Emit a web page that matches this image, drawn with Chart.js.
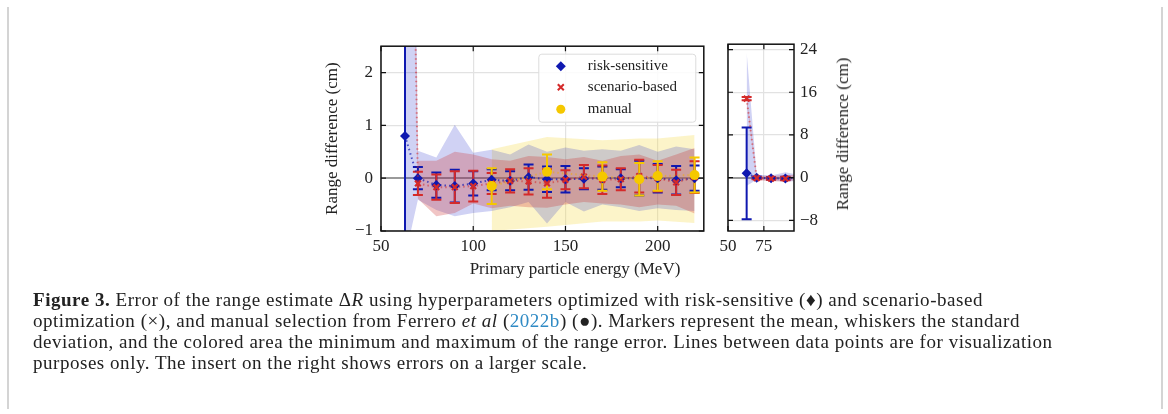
<!DOCTYPE html>
<html lang="en">
<head>
<meta charset="UTF-8">
<title>Figure 3 - range error</title>
<script src="https://cdn.jsdelivr.net/npm/chart.js@4.4.1/dist/chart.umd.min.js"></script>
<style>
    body {
        margin: 0;
        width: 1168px;
        height: 414px;
        position: relative;
        overflow: hidden;
        background: #fff;
        font-family: 'Liberation Serif', serif;
    }
    .frame {
        position: absolute;
        left: 7px;
        top: 7px;
        width: 1152px;
        height: 402px;
        border-left: 2px solid #d4d4d4;
        border-right: 2px solid #d4d4d4;
    }
    .box { position: absolute; }
    .xtitle {
        position: absolute;
        left: 447px;
        top: 259px;
        width: 256px;
        text-align: center;
        font-size: 17px;
        color: #222;
        white-space: nowrap;
    }
    .ytitle-right {
        position: absolute;
        left: 843px;
        top: 134px;
        transform: translate(-50%, -50%) rotate(-90deg);
        font-size: 17px;
        color: #222;
        white-space: nowrap;
    }
    .caption {
        position: absolute;
        left: 33px;
        top: 289px;
        font-size: 19px;
        letter-spacing: 0.53px;
        line-height: 21px;
        color: #222;
    }
    .caption div { white-space: nowrap; }
    .caption a { color: #2f8ac4; text-decoration: none; }
</style>
</head>
<body>
<div class="frame"></div>
<div class="box" style="left:320px; top:28px;"><canvas id="mainChart" width="390" height="265"></canvas></div>
<div class="box" style="left:700px; top:28px;"><canvas id="insetChart" width="160" height="265"></canvas></div>
<div class="xtitle">Primary particle energy (MeV)</div>
<div class="ytitle-right">Range difference (cm)</div>
<div class="caption">
    <div><b>Figure 3.</b> Error of the range estimate &Delta;<i>R</i> using hyperparameters optimized with risk-sensitive (&#9830;) and scenario-based</div>
    <div>optimization (&times;), and manual selection from Ferrero <i>et al</i> (<a>2022b</a>) (&#9679;). Markers represent the mean, whiskers the standard</div>
    <div>deviation, and the colored area the minimum and maximum of the range error. Lines between data points are for visualization</div>
    <div>purposes only. The insert on the right shows errors on a larger scale.</div>
</div>

<script>
// energies (MeV)
const energy = [63, 70, 80, 90, 100, 110, 120, 130, 140, 150, 160, 170, 180, 190, 200, 210, 220];
const manualEnergy = [110, 140, 170, 190, 200, 220];

// risk-sensitive
const riskMean = [0.8, 0.0, -0.13, -0.15, -0.1, -0.03, -0.05, 0.02, -0.02, -0.02, -0.01, 0.0, 0.0, 0.0, 0.0, -0.04, 0.0];
const riskStd  = [8.6, 0.21, 0.24, 0.31, 0.23, 0.2, 0.18, 0.24, 0.24, 0.25, 0.2, 0.22, 0.17, 0.33, 0.27, 0.27, 0.24];
const riskMin  = [-1.5, -0.41, -0.6, -0.72, -0.66, -0.62, -0.55, -0.45, -0.86, -0.45, -0.63, -0.5, -0.55, -0.62, -0.57, -0.6, -0.62];
const riskMax  = [23.5, 0.52, 0.39, 1.01, 0.48, 0.54, 0.45, 0.64, 0.5, 0.58, 0.52, 0.55, 0.52, 0.63, 0.5, 0.6, 0.55];

// scenario-based
const scenMean = [14.8, -0.1, -0.17, -0.17, -0.15, -0.1, -0.05, -0.06, -0.1, -0.03, 0.03, -0.03, -0.02, 0.04, 0.0, -0.08, 0.02];
const scenStd  = [0.3, 0.22, 0.24, 0.3, 0.29, 0.2, 0.22, 0.25, 0.27, 0.18, 0.22, 0.27, 0.21, 0.31, 0.25, 0.24, 0.3];
const scenMin  = [14.2, -0.39, -0.72, -0.66, -0.48, -0.57, -0.52, -0.55, -0.56, -0.5, -0.45, -0.48, -0.5, -0.55, -0.5, -0.52, -0.67];
const scenMax  = [15.4, 0.33, 0.33, 0.5, 0.45, 0.36, 0.33, 0.42, 0.4, 0.36, 0.4, 0.33, 0.42, 0.45, 0.33, 0.45, 0.57];

// manual
const manualMean = [-0.15, 0.12, 0.03, -0.02, 0.04, 0.06];
const manualStd  = [0.34, 0.33, 0.27, 0.31, 0.28, 0.33];
const manualMin  = [-1.0, -0.92, -0.82, -0.82, -0.8, -0.85];
const manualMax  = [0.55, 0.78, 0.72, 0.75, 0.75, 0.82];

// tick labels
const mainXTicks = [50, 100, 150, 200];
const mainYTicks = [-1, 0, 1, 2];
const insetXTicks = [50, 75];
const insetYTicks = [-8, 0, 8, 16, 24];

const BLUE = '#0f18b0';
const RED = '#d42a2a';
const YELLOW = '#f5c800';
const FONT = "'Liberation Serif', serif";

function pts(xs, ys) {
    return xs.map((x, i) => ({x: x, y: ys[i]}));
}

function band(xs, lo, hi, color, order) {
    return [
        {data: pts(xs, hi), fill: '+1', backgroundColor: color, borderColor: 'transparent',
         borderWidth: 0, pointRadius: 0, order: order},
        {data: pts(xs, lo), fill: false, borderColor: 'transparent',
         borderWidth: 0, pointRadius: 0, order: order}
    ];
}

function meanLine(xs, ys, lineColor, color, style, radius, order) {
    const cross = style === 'crossRot';
    return {
        data: pts(xs, ys),
        borderColor: lineColor,
        borderWidth: 2,
        borderDash: [1.5, 3],
        pointStyle: style,
        pointRadius: radius,
        pointBackgroundColor: color,
        pointBorderColor: color,
        pointBorderWidth: cross ? 2.2 : 0,
        fill: false,
        tension: 0,
        order: order
    };
}

function makeDatasets() {
    return [].concat(
        band(manualEnergy, manualMin, manualMax, 'rgba(245, 215, 60, 0.28)', 30),
        band(energy, riskMin, riskMax, 'rgba(20, 30, 200, 0.2)', 20),
        band(energy, scenMin, scenMax, 'rgba(205, 45, 45, 0.28)', 10),
        [
            meanLine(energy, riskMean, 'rgba(15, 24, 176, 0.7)', BLUE, 'rectRot', 5, 3),
            meanLine(energy, scenMean, 'rgba(212, 42, 42, 0.55)', RED, 'crossRot', 4, 2),
            meanLine(manualEnergy, manualMean, 'rgba(240, 170, 20, 0.6)', YELLOW, 'circle', 5, 1)
        ]
    );
}

const errorSeries = [
    {xs: energy, mean: riskMean, std: riskStd, color: BLUE},
    {xs: energy, mean: scenMean, std: scenStd, color: RED},
    {xs: manualEnergy, mean: manualMean, std: manualStd, color: YELLOW}
];

// whiskers: mean +- std with caps
const errorBars = {
    id: 'errorBars',
    beforeDatasetsDraw(chart) {
        const ctx = chart.ctx, ca = chart.chartArea;
        const xs = chart.scales.x, ys = chart.scales.y;
        ctx.save();
        ctx.beginPath();
        ctx.rect(ca.left, ca.top, ca.right - ca.left, ca.bottom - ca.top);
        ctx.clip();
        ctx.lineWidth = 2;
        errorSeries.forEach(s => {
            ctx.strokeStyle = s.color;
            s.xs.forEach((x, i) => {
                const px = xs.getPixelForValue(x);
                const top = ys.getPixelForValue(s.mean[i] + s.std[i]);
                const bot = ys.getPixelForValue(s.mean[i] - s.std[i]);
                ctx.beginPath();
                ctx.moveTo(px, top); ctx.lineTo(px, bot);
                ctx.moveTo(px - 5, top); ctx.lineTo(px + 5, top);
                ctx.moveTo(px - 5, bot); ctx.lineTo(px + 5, bot);
                ctx.stroke();
            });
        });
        ctx.restore();
    }
};

// box frame and inward ticks on all four sides
const frameTicks = {
    id: 'frameTicks',
    afterDraw(chart) {
        const ctx = chart.ctx, ca = chart.chartArea;
        const xs = chart.scales.x, ys = chart.scales.y;
        ctx.save();
        ctx.strokeStyle = '#111';
        ctx.lineWidth = 1.2;
        ctx.beginPath();
        xs.ticks.forEach(t => {
            const px = xs.getPixelForValue(t.value);
            ctx.moveTo(px, ca.bottom); ctx.lineTo(px, ca.bottom - 5);
            ctx.moveTo(px, ca.top); ctx.lineTo(px, ca.top + 5);
        });
        ys.ticks.forEach(t => {
            const py = ys.getPixelForValue(t.value);
            ctx.moveTo(ca.left, py); ctx.lineTo(ca.left + 5, py);
            ctx.moveTo(ca.right, py); ctx.lineTo(ca.right - 5, py);
        });
        ctx.stroke();
        ctx.lineWidth = 1.5;
        ctx.strokeRect(ca.left, ca.top, ca.right - ca.left, ca.bottom - ca.top);
        ctx.restore();
    }
};

const legendBox = {
    id: 'legendBox',
    afterDraw(chart) {
        const ctx = chart.ctx, ca = chart.chartArea;
        const w = 157, h = 68;
        const left = ca.right - 8 - w, top = ca.top + 8;
        ctx.save();
        ctx.fillStyle = 'rgba(255,255,255,0.85)';
        ctx.strokeStyle = '#dcdcdc';
        ctx.lineWidth = 1;
        ctx.beginPath();
        ctx.roundRect(left, top, w, h, 3);
        ctx.fill();
        ctx.stroke();
        const rows = [
            {label: 'risk-sensitive', dy: 12},
            {label: 'scenario-based', dy: 33},
            {label: 'manual', dy: 55}
        ];
        const mx = left + 22;
        // diamond
        let y = top + rows[0].dy;
        ctx.fillStyle = BLUE;
        ctx.beginPath();
        ctx.moveTo(mx, y - 5); ctx.lineTo(mx + 5, y); ctx.lineTo(mx, y + 5); ctx.lineTo(mx - 5, y);
        ctx.closePath(); ctx.fill();
        // cross
        y = top + rows[1].dy;
        ctx.strokeStyle = RED; ctx.lineWidth = 2;
        ctx.beginPath();
        ctx.moveTo(mx - 3, y - 3); ctx.lineTo(mx + 3, y + 3);
        ctx.moveTo(mx - 3, y + 3); ctx.lineTo(mx + 3, y - 3);
        ctx.stroke();
        // circle
        y = top + rows[2].dy;
        ctx.fillStyle = YELLOW;
        ctx.beginPath(); ctx.arc(mx, y, 4.5, 0, Math.PI * 2); ctx.fill();
        ctx.fillStyle = '#222';
        ctx.font = "15px " + FONT;
        ctx.textBaseline = 'middle';
        rows.forEach(r => ctx.fillText(r.label, left + 49, top + r.dy));
        ctx.restore();
    }
};

function fmt(v) {
    return String(v).replace('-', '\u2212');
}

function gridOpts() {
    return {
        drawTicks: false,
        color: c => (c.tick && c.tick.value === 0) ? '#9a9a9a' : '#e2e2e2',
        lineWidth: c => (c.tick && c.tick.value === 0) ? 2 : 1.2
    };
}

function setTicks(list) {
    return scale => { scale.ticks = list.map(v => ({value: v})); };
}

function baseOptions(xMin, xMax, yMin, yMax, xTicks, yTicks, yPos, padding) {
    return {
        responsive: false,
        animation: false,
        devicePixelRatio: 1,
        layout: {padding: padding},
        plugins: {
            legend: {display: false},
            tooltip: {enabled: false},
            filler: {drawTime: 'beforeDatasetsDraw'}
        },
        scales: {
            x: {
                type: 'linear', min: xMin, max: xMax,
                afterBuildTicks: setTicks(xTicks),
                afterFit: s => { s.height = 62; },
                grid: gridOpts(),
                border: {display: false},
                ticks: {padding: 5, color: '#222', font: {family: FONT, size: 17}, callback: fmt, maxRotation: 0}
            },
            y: {
                type: 'linear', min: yMin, max: yMax, position: yPos,
                afterBuildTicks: setTicks(yTicks),
                grid: gridOpts(),
                border: {display: false},
                ticks: {padding: yPos === 'left' ? 8 : 6, color: '#222', font: {family: FONT, size: 17}, callback: fmt}
            }
        }
    };
}

const mainOpts = baseOptions(50, 225, -1, 2.5, mainXTicks, mainYTicks, 'left', {left: 0, top: 8, right: 2, bottom: 0});
mainOpts.scales.y.afterFit = s => { s.width = 61; };
mainOpts.scales.y.title = {display: true, text: 'Range difference (cm)', color: '#222',
    font: {family: FONT, size: 17}, padding: {top: 2, bottom: 0}};

new Chart(document.getElementById('mainChart').getContext('2d'), {
    type: 'line',
    data: {datasets: makeDatasets()},
    options: mainOpts,
    plugins: [errorBars, frameTicks, legendBox]
});

const insetOpts = baseOptions(50, 96, -10, 25, insetXTicks, insetYTicks, 'right', {left: 28, top: 8, right: 0, bottom: 0});
insetOpts.scales.y.afterFit = s => { s.width = 66; };

new Chart(document.getElementById('insetChart').getContext('2d'), {
    type: 'line',
    data: {datasets: makeDatasets()},
    options: insetOpts,
    plugins: [errorBars, frameTicks]
});
</script>
</body>
</html>
